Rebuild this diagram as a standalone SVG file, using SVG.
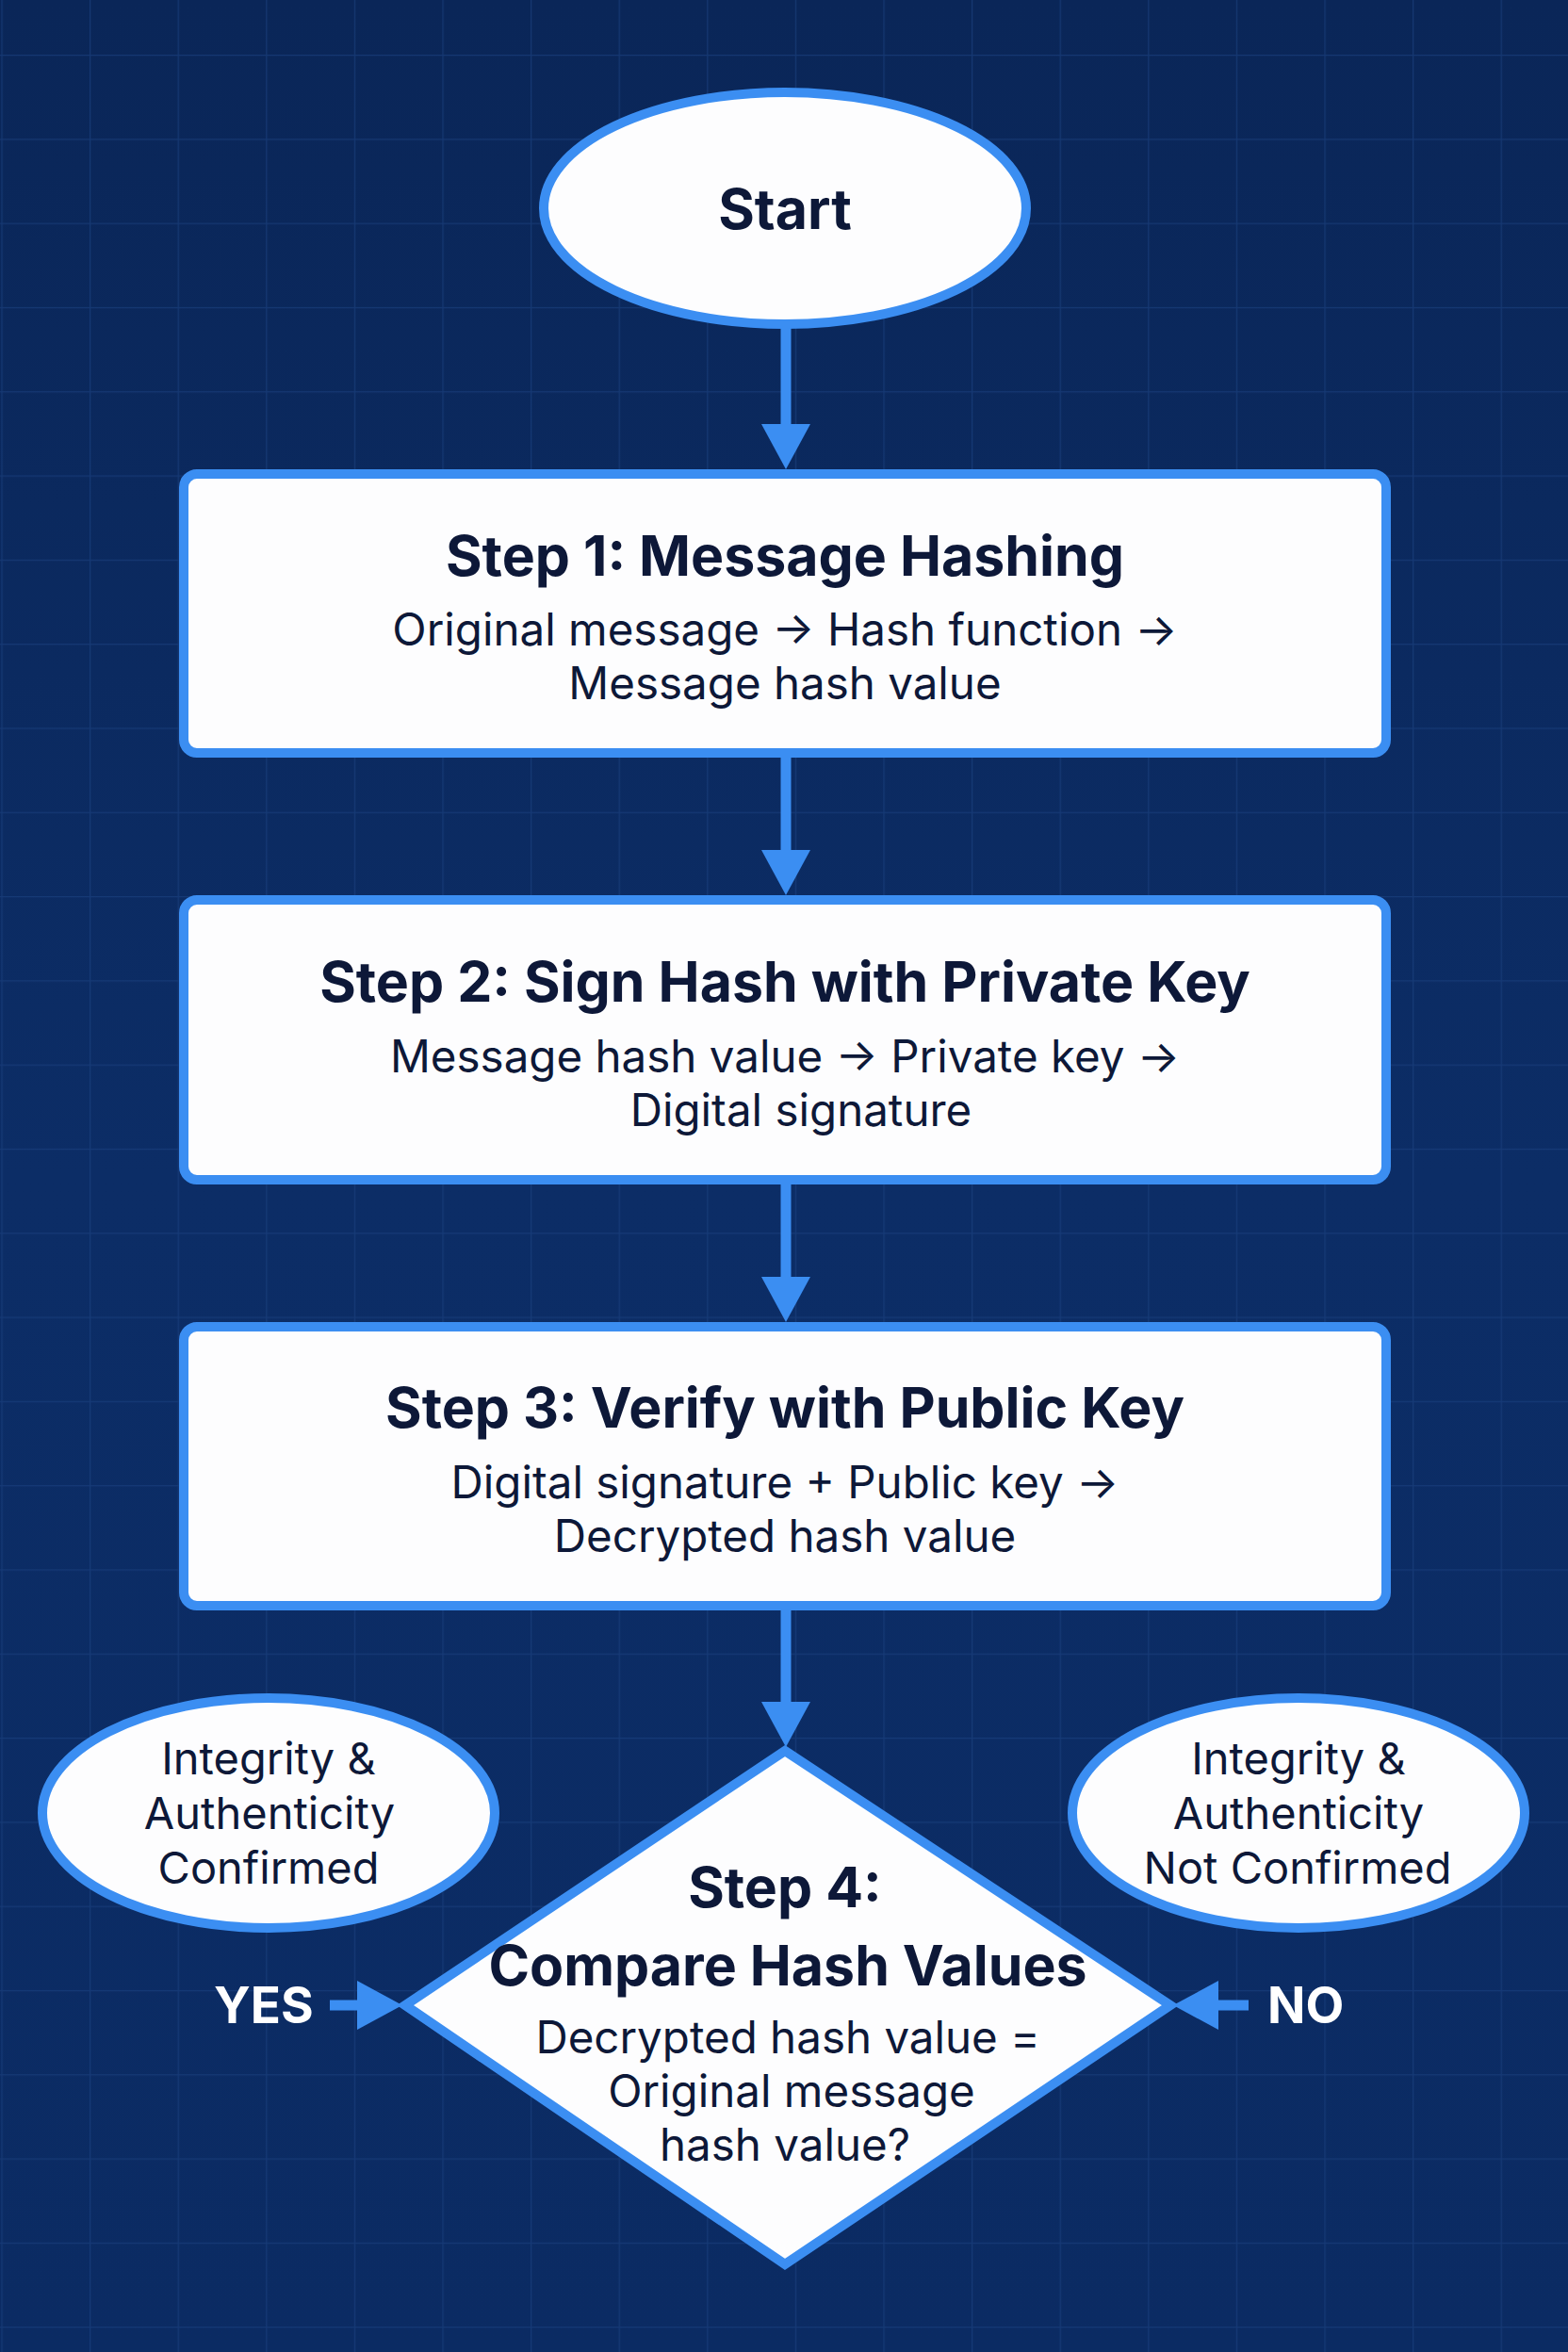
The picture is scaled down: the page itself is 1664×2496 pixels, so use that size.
<svg xmlns="http://www.w3.org/2000/svg" width="1664" height="2496" viewBox="0 0 1664 2496">
<defs>
<linearGradient id="bg" x1="0" y1="0" x2="0" y2="1">
<stop offset="0" stop-color="#0a2658"/>
<stop offset="0.5" stop-color="#0c2d66"/>
<stop offset="1" stop-color="#0b2b63"/>
</linearGradient>
<pattern id="grid" patternUnits="userSpaceOnUse" x="1.4" y="-31.3" width="93.6" height="89.3">
<path d="M0,0 H93.6 M0,0 V89.3" fill="none" stroke="#1c4282" stroke-opacity="0.6" stroke-width="2.5"/>
</pattern>
<marker id="ah" viewBox="0 -26 48 52" refX="2" refY="0" markerWidth="48" markerHeight="52" markerUnits="userSpaceOnUse" orient="auto">
<path d="M0,-26 L48,0 L0,26 Z" fill="#3b8ef2"/>
</marker>
<style>
.shape{fill:#fdfdfe;stroke:#3b8ef2;stroke-width:10}
.conn{stroke:#3b8ef2;stroke-width:11;fill:none;marker-end:url(#ah)}
.t{font-family:Inter,"Noto Sans","Liberation Sans",sans-serif;fill:#0d1838;text-anchor:middle}
.b{font-weight:700;font-size:59px}
.r{font-weight:400;font-size:47.5px}
.e{font-weight:400;font-size:47px}
.lbl{font-family:Inter,"Noto Sans","Liberation Sans",sans-serif;fill:#ffffff;font-weight:700;font-size:53px}
</style>
</defs>
<rect x="0" y="0" width="1664" height="2496" fill="url(#bg)"/>
<rect x="0" y="0" width="1664" height="2496" fill="url(#grid)"/>

<g id="connectors">
<line class="conn" x1="834" y1="345" x2="834" y2="452"/>
<line class="conn" x1="834" y1="799" x2="834" y2="904"/>
<line class="conn" x1="834" y1="1252" x2="834" y2="1357"/>
<line class="conn" x1="834" y1="1704" x2="834" y2="1808"/>
<line class="conn" x1="350" y1="2128" x2="381" y2="2128"/>
<line class="conn" x1="1325" y1="2128" x2="1291" y2="2128"/>
</g>

<g id="start">
<ellipse class="shape" cx="833" cy="221" rx="256" ry="123"/>
<text class="t b" x="833" y="243" font-size="60">Start</text>
</g>

<g id="step1">
<rect class="shape" x="195" y="503" width="1276" height="296" rx="14"/>
<text class="t b" x="833" y="611">Step 1: Message Hashing</text>
<text class="t r" x="833" y="685">Original message → Hash function →</text>
<text class="t r" x="833" y="742">Message hash value</text>
</g>

<g id="step2">
<rect class="shape" x="195" y="955" width="1276" height="297" rx="14"/>
<text class="t b" x="833" y="1063">Step 2: Sign Hash with Private Key</text>
<text class="t r" x="833" y="1138">Message hash value → Private key →</text>
<text class="t r" x="850" y="1195">Digital signature</text>
</g>

<g id="step3">
<rect class="shape" x="195" y="1408" width="1276" height="296" rx="14"/>
<text class="t b" x="833" y="1515" font-size="58">Step 3: Verify with Public Key</text>
<text class="t r" x="833" y="1590">Digital signature + Public key →</text>
<text class="t r" x="833" y="1647">Decrypted hash value</text>
</g>

<g id="step4">
<polygon class="shape" points="833,1858 1242,2128 833,2403 430,2128" stroke-linejoin="miter"/>
<text class="t b" x="833" y="2024" font-size="57">Step 4:</text>
<text class="t b" x="836" y="2107" font-size="56">Compare Hash Values</text>
<text class="t r" x="836" y="2179" font-size="46.5">Decrypted hash value =</text>
<text class="t r" x="840" y="2236" font-size="46.5">Original message</text>
<text class="t r" x="833" y="2293" font-size="46.5">hash value?</text>
</g>

<g id="confirmed">
<ellipse class="shape" cx="285" cy="1924" rx="240" ry="122"/>
<text class="t e" x="285" y="1883">Integrity &amp;</text>
<text class="t e" x="286" y="1941">Authenticity</text>
<text class="t e" x="285" y="1999">Confirmed</text>
</g>

<g id="not-confirmed">
<ellipse class="shape" cx="1378" cy="1924" rx="240" ry="122"/>
<text class="t e" x="1378" y="1883">Integrity &amp;</text>
<text class="t e" x="1378" y="1941">Authenticity</text>
<text class="t e" x="1377" y="1999">Not Confirmed</text>
</g>

<g id="labels">
<text class="lbl" x="227" y="2147">YES</text>
<text class="lbl" x="1345" y="2147">NO</text>
</g>
</svg>
